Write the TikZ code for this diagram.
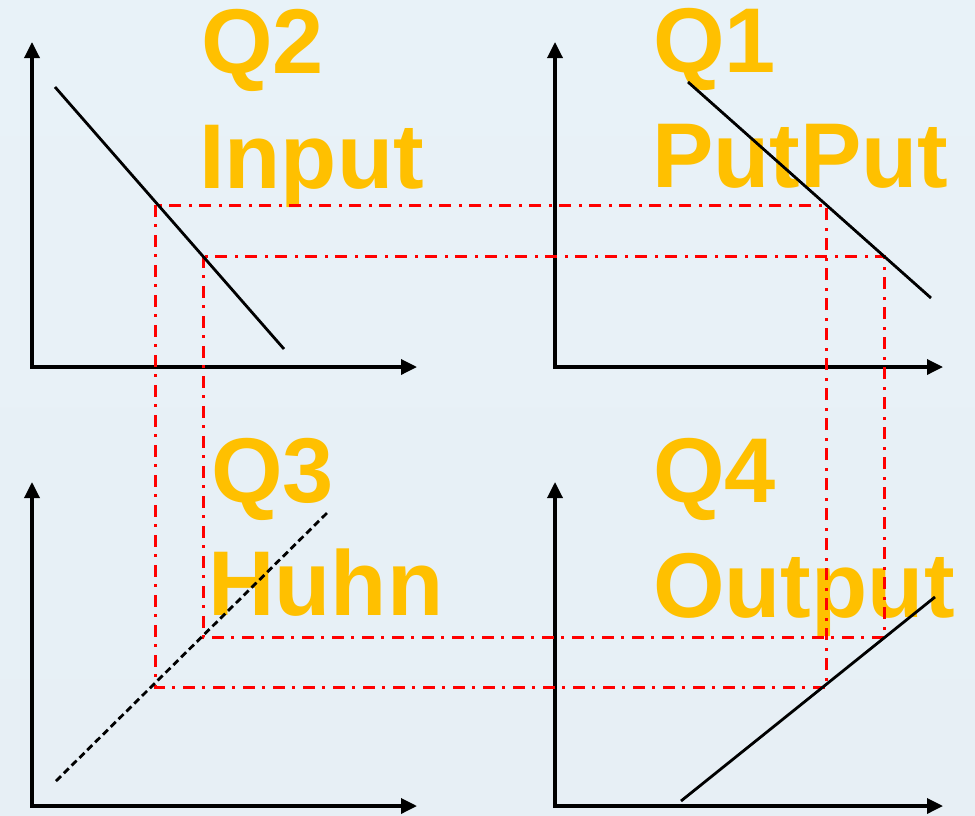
\documentclass[tikz,border=0pt]{standalone}
\usepackage{fontspec}
\setmainfont{Liberation Sans}
\usetikzlibrary{arrows.meta}
\definecolor{qyellow}{HTML}{FFC000}
\definecolor{bgtop}{HTML}{E8F2F8}
\definecolor{bgbot}{HTML}{E7EFF5}
\definecolor{guidered}{HTML}{FF0000}
\begin{document}
\begin{tikzpicture}[x=1pt,y=-1pt,
  axis/.style={line width=3.4pt,line join=miter,{Triangle[length=16pt,width=15pt]}-{Triangle[length=16pt,width=15pt]}},
  curve/.style={line width=2.8pt},
  dcurve/.style={line width=2.8pt,dash pattern=on 7pt off 4pt},
  guide/.style={guidered,line width=3pt,dash pattern=on 12pt off 7pt on 3pt off 8pt},
  qlabel/.style={text=qyellow,font=\fontsize{92}{100}\selectfont\bfseries,anchor=base west,inner sep=0pt}]
\useasboundingbox (0,0) rectangle (975,815);
\shade[top color=bgtop,bottom color=bgbot] (0,0) rectangle (975,815);

% labels
\node[qlabel] (q2a) at (201,73) {Q2};
\node[qlabel] (q2b) at (199,188) {Input};
\node[qlabel] (q1a) at (653,72) {Q1};
\node[qlabel] (q1b) at (652,187) {PutPut};
\node[qlabel] (q3a) at (211,502) {Q3};
\node[qlabel] (q3b) at (208,615) {Huhn};
\node[qlabel] (q4a) at (653,502) {Q4};
\node[qlabel] (q4b) at (653,617) {Output};

% axes
\coordinate (y2) at (32,42);   \coordinate (o2) at (32,367);  \coordinate (x2) at (417,367);
\coordinate (y1) at (555,42);  \coordinate (o1) at (555,367); \coordinate (x1) at (943,367);
\coordinate (y3) at (32,482);  \coordinate (o3) at (32,806);  \coordinate (x3) at (417,806);
\coordinate (y4) at (555,482); \coordinate (o4) at (555,806); \coordinate (x4) at (943,806);
\draw[axis] (y2) -- (o2) -- (x2);
\draw[axis] (y1) -- (o1) -- (x1);
\draw[axis] (y3) -- (o3) -- (x3);
\draw[axis] (y4) -- (o4) -- (x4);

% guide rectangles
\coordinate (ga) at (155,205); \coordinate (gb) at (826,687);
\coordinate (ha) at (203,256); \coordinate (hb) at (884,637);
\draw[guide] (ga) rectangle (gb);
\draw[guide] (ha) rectangle (hb);

% curves
\coordinate (c2a) at (55,87);   \coordinate (c2b) at (284,349);
\coordinate (c1a) at (688,82);  \coordinate (c1b) at (931,298);
\coordinate (c3a) at (56,781);  \coordinate (c3b) at (327,513);
\coordinate (c4a) at (681,801); \coordinate (c4b) at (935,597);
\draw[curve] (c2a) -- (c2b);
\draw[curve] (c1a) -- (c1b);
\draw[dcurve] (c3a) -- (c3b);
\draw[curve] (c4a) -- (c4b);
\end{tikzpicture}
\end{document}
